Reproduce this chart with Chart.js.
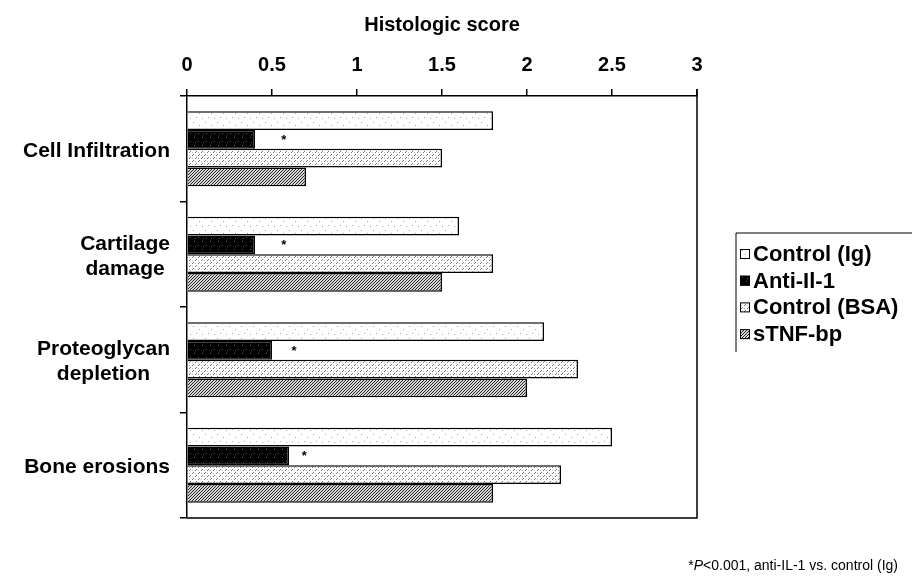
<!DOCTYPE html>
<html>
<head>
<meta charset="utf-8">
<script src="https://cdn.jsdelivr.net/npm/chart.js@4/dist/chart.umd.min.js"></script>
<style>
  html, body { margin: 0; padding: 0; background: #fff; }
  #wrap { position: relative; width: 912px; height: 581px; }
  #note {
    position: absolute; right: 14px; top: 557px;
    font: 14px "Liberation Sans", Arial, sans-serif; color: #000;
  }
</style>
</head>
<body>
<div id="wrap">
  <canvas id="histChart" width="912" height="581"></canvas>
  <div id="note">*<i>P</i>&lt;0.001, anti-IL-1 vs. control (Ig)</div>
</div>
<script>
// categories (multi-line labels as arrays)
const categories = [
  ['Cell Infiltration'],
  ['Cartilage', 'damage'],
  ['Proteoglycan', 'depletion'],
  ['Bone erosions']
];
const seriesNames = ['Control (Ig)', 'Anti-Il-1', 'Control (BSA)', 'sTNF-bp'];
const controlIg = [1.8, 1.6, 2.1, 2.5];
const antiIL1 = [0.4, 0.4, 0.5, 0.6];
const controlBSA = [1.5, 1.8, 2.3, 2.2];
const sTNFbp = [0.7, 1.5, 2.0, 1.8];
// where the significance asterisk sits on the score axis
const asteriskAt = [0.57, 0.57, 0.63, 0.69];
const xTicks = [0, 0.5, 1, 1.5, 2, 2.5, 3];

const FONT = '"Liberation Sans", Arial, sans-serif';

// little tiles used as fills, roughly like the printed textures
function makePattern(kind) {
  const c = document.createElement('canvas');
  const ctx = c.getContext('2d');
  if (kind === 'sparse') {
    c.width = 12; c.height = 12;
    ctx.fillStyle = '#fff'; ctx.fillRect(0, 0, 12, 12);
    ctx.fillStyle = '#a8a8a8';
    [[1, 2], [7, 5], [4, 9], [10, 10]].forEach(p => ctx.fillRect(p[0], p[1], 1, 1));
  } else if (kind === 'black') {
    c.width = 8; c.height = 8;
    ctx.fillStyle = '#000'; ctx.fillRect(0, 0, 8, 8);
    ctx.fillStyle = '#555';
    [[2, 1], [6, 5], [3, 6]].forEach(p => ctx.fillRect(p[0], p[1], 1, 1));
  } else if (kind === 'dots') {
    c.width = 6; c.height = 6;
    ctx.fillStyle = '#fff'; ctx.fillRect(0, 0, 6, 6);
    ctx.fillStyle = '#777';
    [[0, 5], [1, 4], [3, 2], [4, 1]].forEach(p => ctx.fillRect(p[0], p[1], 1, 1));
    ctx.fillStyle = '#bbb';
    [[3, 5], [0, 2]].forEach(p => ctx.fillRect(p[0], p[1], 1, 1));
  } else {
    c.width = 3; c.height = 3;
    ctx.fillStyle = '#d8d8d8'; ctx.fillRect(0, 0, 3, 3);
    ctx.fillStyle = '#222';
    [[0, 2], [1, 1], [2, 0]].forEach(p => ctx.fillRect(p[0], p[1], 1, 1));
  }
  return ctx.createPattern(c, 'repeat');
}

const fills = [makePattern('sparse'), makePattern('black'), makePattern('dots'), makePattern('hatch')];

// frame, category labels, asterisks and legend
const extrasPlugin = {
  id: 'extras',
  afterDraw(chart) {
    const { ctx, chartArea: a, scales } = chart;
    ctx.save();
    ctx.strokeStyle = '#000';
    ctx.lineWidth = 1.5;
    ctx.beginPath();
    ctx.moveTo(a.right, a.top - 7);
    ctx.lineTo(a.right, a.bottom);
    ctx.lineTo(a.left, a.bottom);
    ctx.stroke();

    // category labels: block right aligned, lines centred within it
    ctx.fillStyle = '#000';
    ctx.font = 'bold 21px ' + FONT;
    ctx.textBaseline = 'middle';
    ctx.textAlign = 'center';
    const labelRight = a.left - 17;
    const lineH = 25;
    categories.forEach((lines, i) => {
      const yc = scales.y.getPixelForValue(i) + 2;
      const w = Math.max(...lines.map(l => ctx.measureText(l).width));
      const xc = labelRight - w / 2;
      const y0 = yc - (lines.length - 1) * lineH / 2;
      lines.forEach((l, j) => ctx.fillText(l, xc, y0 + j * lineH));
    });

    // asterisks beside the anti-IL-1 bars
    const meta = chart.getDatasetMeta(1);
    ctx.font = 'bold 13px ' + FONT;
    asteriskAt.forEach((v, i) => {
      ctx.fillText('*', scales.x.getPixelForValue(v), meta.data[i].y + 1);
    });

    // legend box
    const lx = 736, ly = 233, lb = 352;
    ctx.lineWidth = 1;
    ctx.beginPath();
    ctx.moveTo(chart.width, ly);
    ctx.lineTo(lx, ly);
    ctx.lineTo(lx, lb);
    ctx.stroke();
    ctx.font = 'bold 22px ' + FONT;
    ctx.textAlign = 'left';
    seriesNames.forEach((name, i) => {
      const y = 254 + i * 26.7;
      ctx.fillStyle = fills[i];
      ctx.fillRect(740, y - 5, 10, 10);
      ctx.strokeStyle = '#000';
      ctx.strokeRect(740.5, y - 4.5, 9, 9);
      ctx.fillStyle = '#000';
      ctx.fillText(name, 753, y + 1);
    });
    ctx.restore();
  }
};

const datasets = [controlIg, antiIL1, controlBSA, sTNFbp].map((vals, i) => ({
  label: seriesNames[i],
  data: vals,
  backgroundColor: fills[i],
  borderColor: '#000',
  borderWidth: 1.5,
  categoryPercentage: 0.71,
  barPercentage: 1.0
}));

new Chart(document.getElementById('histChart'), {
  type: 'bar',
  data: { labels: categories.map(l => l.join(' ')), datasets },
  options: {
    indexAxis: 'y',
    responsive: false,
    animation: false,
    layout: { padding: { top: 0, left: 0, right: 215, bottom: 63 } },
    plugins: {
      legend: { display: false },
      tooltip: { enabled: false }
    },
    scales: {
      x: {
        position: 'top',
        min: 0,
        max: 3,
        afterBuildTicks: s => { s.ticks = xTicks.map(v => ({ value: v })); },
        afterFit: s => { s.height = 96; },
        ticks: {
          color: '#000',
          padding: 12,
          font: { family: FONT, size: 20, weight: 'bold' },
          callback: v => String(v)
        },
        grid: { drawOnChartArea: false, tickLength: 7, color: '#000', lineWidth: 1.5 },
        border: { display: true, color: '#000', width: 1.5 },
        title: {
          display: true,
          text: 'Histologic score',
          color: '#000',
          padding: { top: 13, bottom: 0 },
          font: { family: FONT, size: 20, weight: 'bold' }
        }
      },
      y: {
        afterFit: s => { s.width = 187; },
        ticks: { display: false },
        grid: { offset: true, drawOnChartArea: false, tickLength: 7, color: '#000', lineWidth: 1.5 },
        border: { display: true, color: '#000', width: 1.5 }
      }
    }
  },
  plugins: [extrasPlugin]
});
</script>
</body>
</html>
